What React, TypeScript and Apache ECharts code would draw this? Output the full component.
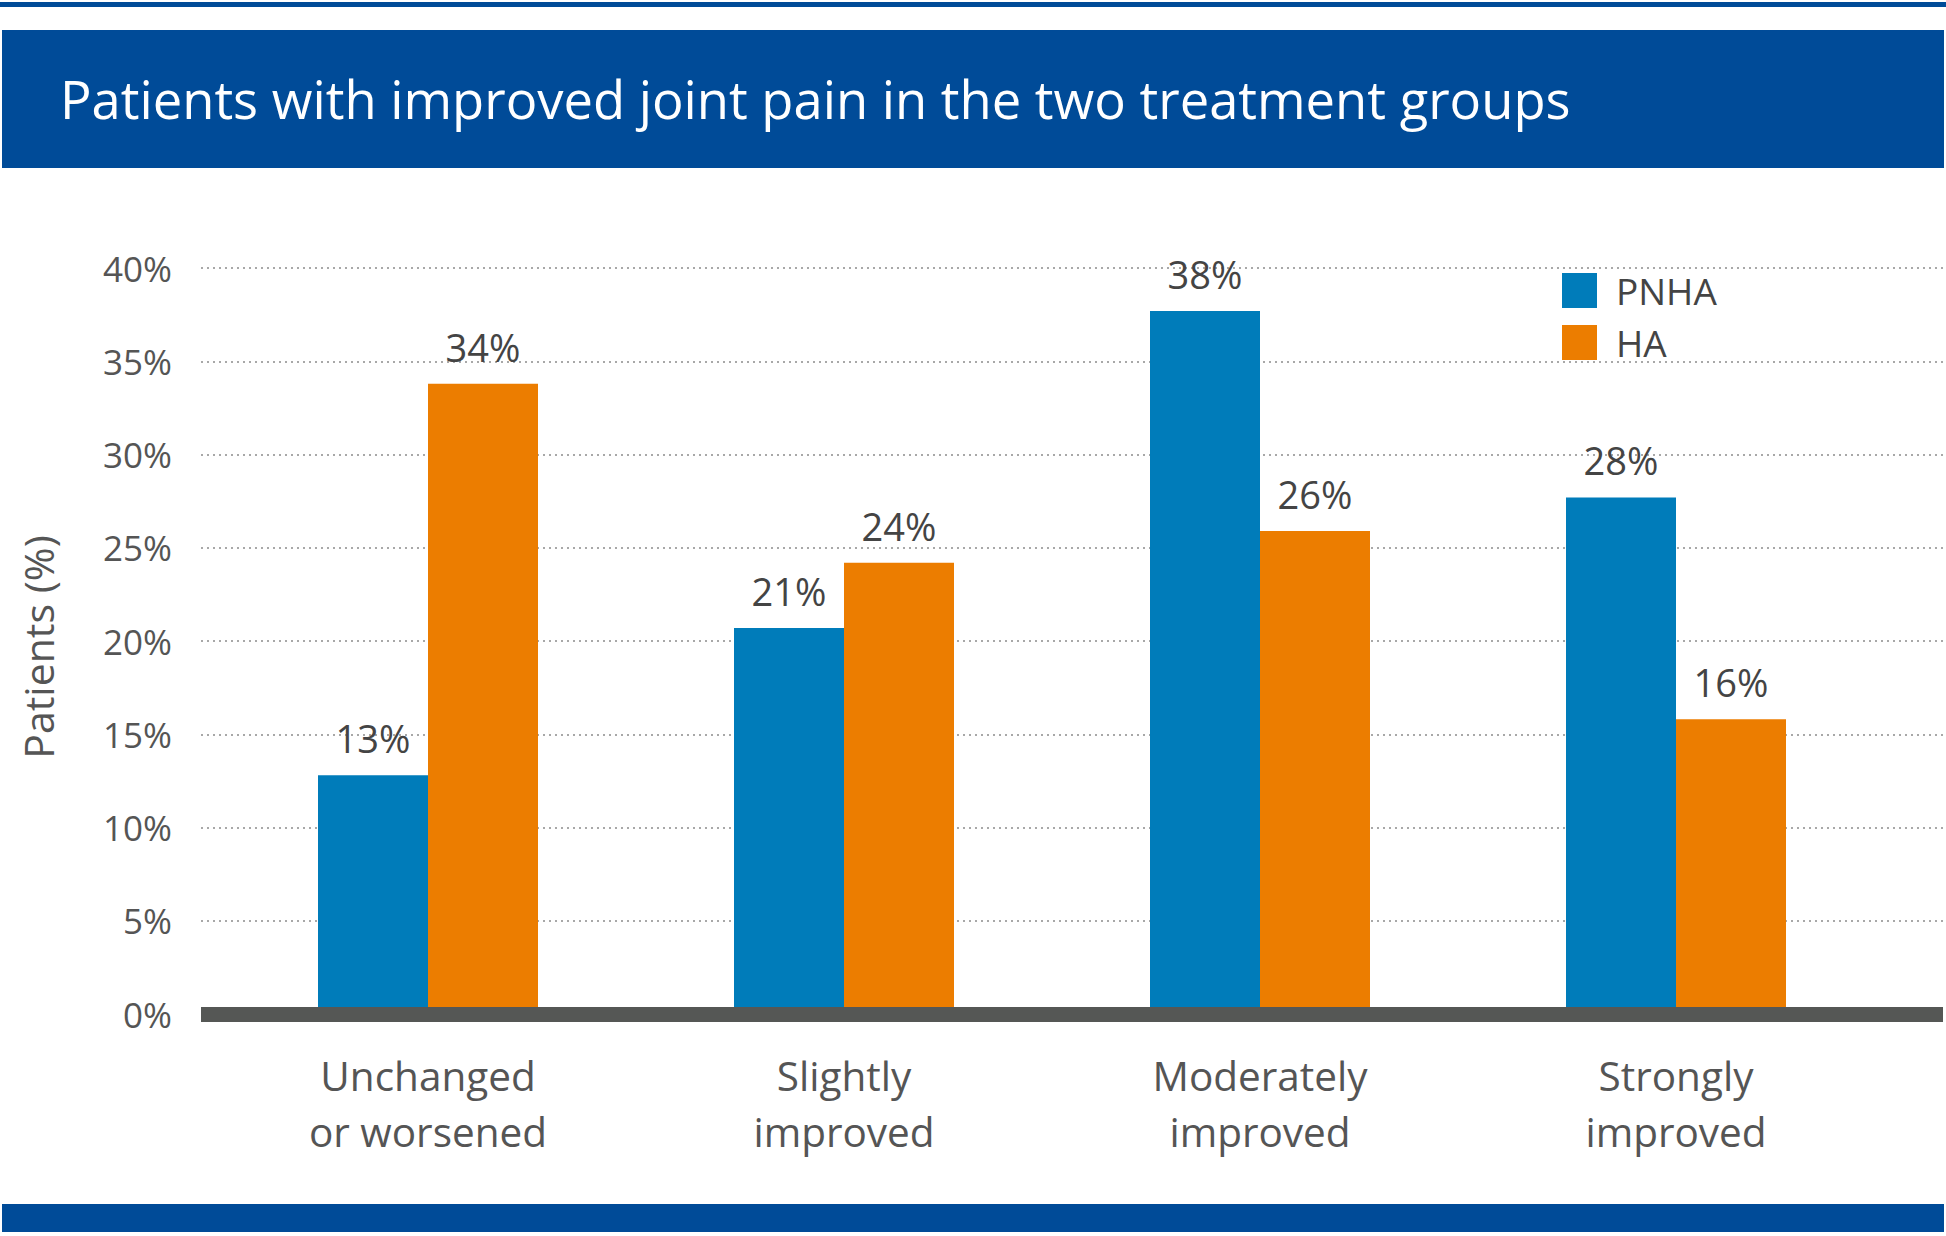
import React, { useEffect, useRef } from "react";
import * as echarts from "echarts";

const categories = ["Unchanged\nor worsened", "Slightly\nimproved", "Moderately\nimproved", "Strongly\nimproved"];
const seriesNames = ["PNHA", "HA"];
const pnhaValues = [12.8, 20.7, 37.7, 27.7];
const haValues = [33.8, 24.2, 25.9, 15.8];
const yTicks = [0, 5, 10, 15, 20, 25, 30, 35, 40];
const titleText = "Patients with improved joint pain in the two treatment groups";
const yAxisTitle = "Patients (%)";

const BLUE = "#007CBA";
const ORANGE = "#EC7D00";
const NAVY = "#004B98";
const FONT = "'Open Sans', Lato, sans-serif";

export default function App() {
  const ref = useRef<HTMLDivElement>(null);
  useEffect(() => {
    if (!ref.current) return;
    const chart = echarts.init(ref.current, undefined, { renderer: "svg" });
    const yMin = yTicks[0];
    const yMax = yTicks[yTicks.length - 1];
    const yInterval = yTicks[1] - yTicks[0];
    const labelFmt = (p: any) => Math.round(p.value) + "%";
    chart.setOption({
      animation: false,
      backgroundColor: "#ffffff",
      textStyle: { fontFamily: FONT },
      title: {
        text: titleText,
        left: 55,
        top: 67,
        z: 10,
        textStyle: { color: "#ffffff", fontSize: 52.5, fontWeight: "normal", fontFamily: FONT },
      },
      graphic: [
        { type: "rect", z: 0, shape: { x: 0, y: 2, width: 1946, height: 5 }, style: { fill: NAVY } },
        { type: "rect", z: 0, shape: { x: 2, y: 30, width: 1942, height: 138 }, style: { fill: NAVY } },
        { type: "rect", z: 0, shape: { x: 2, y: 1204, width: 1942, height: 28 }, style: { fill: NAVY } },
      ],
      legend: {
        orient: "vertical",
        left: 1557,
        top: 267,
        itemWidth: 35,
        itemHeight: 35,
        itemGap: 15,
        icon: "rect",
        data: seriesNames,
        textStyle: { fontSize: 37, color: "#444", fontFamily: FONT, padding: [0, 0, 0, 14] },
      },
      grid: [
        { left: 201, right: 3, top: 268, bottom: 222, containLabel: false },
        { left: 220, right: 62, top: 268, bottom: 222, containLabel: false },
      ],
      xAxis: [
        {
          type: "category",
          gridIndex: 0,
          data: [""],
          z: 10,
          axisLine: { show: true, lineStyle: { color: "#555755", width: 15, cap: "butt" } },
          axisTick: { show: false },
          axisLabel: { show: false },
          splitLine: { show: false },
        },
        {
          type: "category",
          gridIndex: 1,
          data: categories,
          axisLine: { show: false },
          axisTick: { show: false },
          axisLabel: { fontSize: 40.5, lineHeight: 56, color: "#555", margin: 33, fontFamily: FONT },
        },
      ],
      yAxis: [
        {
          type: "value",
          gridIndex: 0,
          min: yMin,
          max: yMax,
          interval: yInterval,
          name: yAxisTitle,
          nameLocation: "middle",
          nameRotate: 90,
          nameGap: 143,
          nameTextStyle: { fontSize: 41, color: "#555", fontFamily: FONT, padding: [0, 12, 0, 0] },
          axisLine: { show: false },
          axisTick: { show: false },
          axisLabel: { formatter: "{value}%", fontSize: 35, color: "#555", margin: 29, fontFamily: FONT },
          splitLine: { show: true, lineStyle: { color: "#a8a8a8", width: 2, type: [2, 4] } },
        },
        {
          type: "value",
          gridIndex: 1,
          min: yMin,
          max: yMax,
          interval: yInterval,
          axisLine: { show: false },
          axisTick: { show: false },
          axisLabel: { show: false },
          splitLine: { show: false },
        },
      ],
      series: [
        {
          name: seriesNames[0],
          type: "bar",
          xAxisIndex: 1,
          yAxisIndex: 1,
          data: pnhaValues,
          barWidth: 110,
          barGap: "0%",
          itemStyle: { color: BLUE },
          label: { show: true, position: "top", distance: 18, fontSize: 38, color: "#444", formatter: labelFmt, fontFamily: FONT },
        },
        {
          name: seriesNames[1],
          type: "bar",
          xAxisIndex: 1,
          yAxisIndex: 1,
          data: haValues,
          barWidth: 110,
          barGap: "0%",
          itemStyle: { color: ORANGE },
          label: { show: true, position: "top", distance: 18, fontSize: 38, color: "#444", formatter: labelFmt, fontFamily: FONT },
        },
      ],
    });
    return () => chart.dispose();
  }, []);
  return <div ref={ref} style={{ position: "absolute", left: 0, top: 0, width: 1946, height: 1236 }} />;
}
